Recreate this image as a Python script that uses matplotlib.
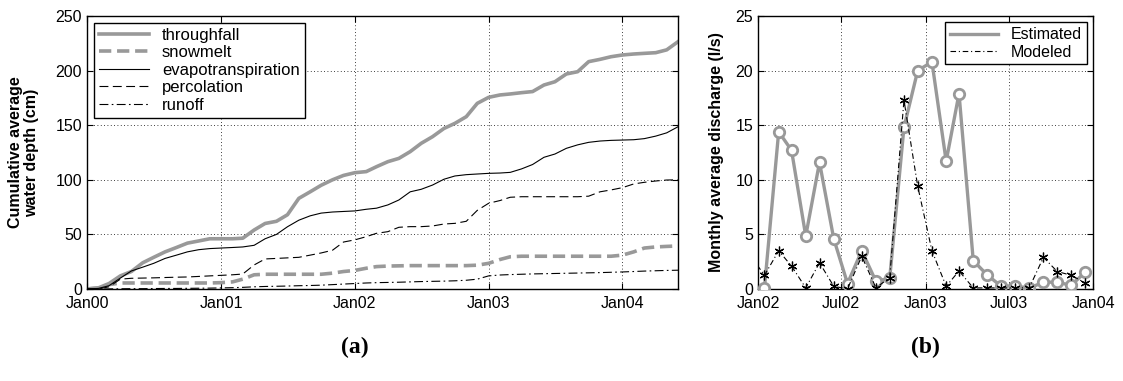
"""
Cumulative water balance (a) and monthly discharge comparison (b).
"""

import datetime as dt

import matplotlib
matplotlib.use("Agg")
import matplotlib.pyplot as plt
import pandas as pd

plt.rcParams["font.family"] = ["Liberation Sans", "DejaVu Sans"]

# ---- panel (a): cumulative depths (cm), monthly from Jan 2000 to Jun 2004
months_a = pd.date_range("2000-01-01", "2004-06-01", freq="MS")

throughfall = [
    0, 1, 5, 12, 16, 24, 29, 34, 38, 42, 44, 46,
    46, 46, 46.5, 54, 60, 62, 68, 83, 89, 95, 100, 104,
    106.5, 107.5, 112, 116.6, 119.6, 125.8, 133.4, 139.5, 147, 151.7, 157.8, 170,
    175.5, 177.7, 178.6, 179.8, 180.8, 186.8, 189.8, 196.9, 199, 208.2, 210.3, 212.7,
    214.3, 215.2, 215.8, 216.4, 219, 226.5,
]
snowmelt = [
    0, 1, 4, 5.5, 5.5, 5.5, 5.5, 5.5, 5.5, 5.5, 5.5, 5.5,
    5.8, 6.5, 9, 13, 13.5, 13.5, 13.5, 13.5, 13.5, 13.5, 14.5, 16,
    17, 19, 20.5, 21, 21.2, 21.4, 21.4, 21.4, 21.4, 21.4, 21.4, 21.8,
    23.5, 27, 29.5, 30, 30, 30, 30, 30, 30, 30, 30, 30,
    31, 34, 37.5, 38.5, 39, 39.4,
]
evapotranspiration = [
    0, 0.5, 3, 10, 16.5, 20, 23.5, 28, 31, 34, 36, 37,
    37.5, 38, 38.5, 40, 46, 50, 57, 63, 67, 69.5, 70.5, 71,
    71.5, 73, 74, 77, 81.5, 89, 91.3, 95.2, 100.5, 103.5, 104.7, 105.3,
    105.9, 106.2, 106.8, 110, 114, 120.6, 123.6, 128.8, 132, 134.3, 135.5, 136.1,
    136.4, 136.7, 137.7, 140, 143, 148.6,
]
percolation = [
    0, 0, 2, 9, 9.8, 10, 10.2, 10.5, 10.8, 11, 11.5, 12,
    12.5, 13, 13.7, 22, 27.5, 28, 28.5, 29, 31, 33, 35.5, 43,
    45, 47.9, 51, 52.5, 56.5, 57.1, 57.1, 57.7, 59.5, 60.1, 62, 72,
    78.5, 81, 84, 84.5, 84.5, 84.5, 84.5, 84.5, 84.5, 85, 89, 90.7,
    92.8, 96.2, 97.7, 98.9, 99.8, 100,
]
runoff = [
    0, 0, 0.1, 0.2, 0.3, 0.3, 0.4, 0.5, 0.5, 0.6, 0.7, 0.8,
    1.0, 1.2, 1.5, 2.0, 2.3, 2.5, 2.7, 3.0, 3.2, 3.5, 4.0, 4.5,
    5.0, 5.5, 5.8, 6.0, 6.2, 6.5, 6.8, 7.0, 7.2, 7.5, 8.0, 9.0,
    12.0, 12.8, 13.2, 13.5, 13.8, 14.0, 14.2, 14.4, 14.6, 14.8, 15.0, 15.3,
    15.6, 16.0, 16.4, 16.7, 17.0, 17.2,
]
ticks_a = ["Jan00", "Jan01", "Jan02", "Jan03", "Jan04"]

# ---- panel (b): monthly average discharge (l/s), mid-month
months_est = pd.date_range("2002-01-01", periods=24, freq="MS") + pd.Timedelta(days=14)
estimated = [
    0.1, 14.4, 12.7, 4.85, 11.6, 4.6, 0.5, 3.5, 0.7, 1.0, 14.8, 20.0,
    20.8, 11.7, 17.9, 2.6, 1.3, 0.25, 0.3, 0.05, 0.65, 0.6, 0.35, 1.55,
]
months_mod = pd.date_range("2001-12-01", periods=25, freq="MS") + pd.Timedelta(days=14)
modeled = [
    3.1,
    1.25, 3.5, 2.1, 0.1, 2.4, 0.25, 0.0, 3.0, 0.1, 1.05, 17.3, 9.4,
    3.5, 0.25, 1.65, 0.1, 0.1, 0.1, 0.1, 0.1, 2.9, 1.6, 1.25, 0.55,
]
ticks_b = ["Jan02", "Jul02", "Jan03", "Jul03", "Jan04"]

GRAY = "#999999"
TICK_FS = 11.5


def style_axes(ax):
    ax.grid(True, linestyle=(0, (1, 3)), color="black", linewidth=0.6)
    ax.tick_params(direction="in", top=True, right=True, labelsize=TICK_FS,
                   length=4, width=0.8)
    ax.tick_params(axis="x", pad=5)
    for sp in ax.spines.values():
        sp.set_linewidth(1.0)


fig = plt.figure(figsize=(11.23, 3.81), dpi=100, facecolor="white")

# (a)
ax1 = fig.add_axes([0.0775, 0.2415, 0.5263, 0.7165])
ax1.plot(months_a, throughfall, color=GRAY, lw=2.6, label="throughfall")
ax1.plot(months_a, snowmelt, color=GRAY, lw=2.6, linestyle=(0, (3.4, 1.6)),
         label="snowmelt")
ax1.plot(months_a, evapotranspiration, color="black", lw=0.8,
         label="evapotranspiration")
ax1.plot(months_a, percolation, color="black", lw=0.8,
         linestyle=(0, (8, 4)), label="percolation")
ax1.plot(months_a, runoff, color="black", lw=0.8,
         linestyle=(0, (8, 3, 1.5, 3)), label="runoff")
ax1.set_xlim(dt.datetime(2000, 1, 1), dt.datetime(2004, 6, 1))
ax1.set_ylim(0, 250)
ax1.set_yticks(range(0, 251, 50))
ax1.set_xticks([dt.datetime(2000 + i, 1, 1) for i in range(5)])
ax1.set_xticklabels(ticks_a)
ax1.set_ylabel("Cumulative average\nwater depth (cm)", fontsize=11.5,
               fontweight="bold", linespacing=1.1, labelpad=12)
style_axes(ax1)
leg1 = ax1.legend(loc="upper left", fontsize=12, handlelength=3.0,
                  labelspacing=0.15, borderpad=0.3, handletextpad=0.8,
                  fancybox=False, framealpha=1, edgecolor="black",
                  borderaxespad=0.4)
leg1.get_frame().set_linewidth(1.0)

# (b)
ax2 = fig.add_axes([0.675, 0.2415, 0.2983, 0.7165])
ax2.plot(months_est, estimated, color=GRAY, lw=2.4, marker="o", ms=7.5,
         mfc="white", mec=GRAY, mew=2.0, label="Estimated", zorder=3)
ax2.plot(months_mod, modeled, color="black", lw=0.8,
         linestyle=(0, (5, 2.5, 1, 2.5)), marker=(6, 2, 0), ms=7, mew=0.9,
         mec="black", label="Modeled", zorder=4)
ax2.set_xlim(dt.datetime(2002, 1, 1), dt.datetime(2004, 1, 1))
ax2.set_ylim(0, 25)
ax2.set_yticks(range(0, 26, 5))
ax2.set_xticks([dt.datetime(2002, 1, 1), dt.datetime(2002, 7, 1),
                dt.datetime(2003, 1, 1), dt.datetime(2003, 7, 1),
                dt.datetime(2004, 1, 1)])
ax2.set_xticklabels(ticks_b)
ax2.set_ylabel("Monthly average discharge (l/s)", fontsize=11.5,
               fontweight="bold", labelpad=8)
style_axes(ax2)
leg2 = ax2.legend(loc="upper right", fontsize=11.5, handlelength=3.0,
                  labelspacing=0.15, borderpad=0.3, handletextpad=0.8,
                  fancybox=False, framealpha=1, edgecolor="black",
                  borderaxespad=0.4)
leg2.get_frame().set_linewidth(1.0)
for h in leg2.legend_handles:
    h.set_marker("")

# sub-figure labels
fig.text(355 / 1123, 1 - 347 / 381, "(a)", ha="center", va="center",
         fontsize=17, fontweight="bold", family=["Liberation Serif"])
fig.text(925 / 1123, 1 - 347 / 381, "(b)", ha="center", va="center",
         fontsize=17, fontweight="bold", family=["Liberation Serif"])

fig.savefig("out.png", dpi=100, facecolor="white")
plt.close(fig)
